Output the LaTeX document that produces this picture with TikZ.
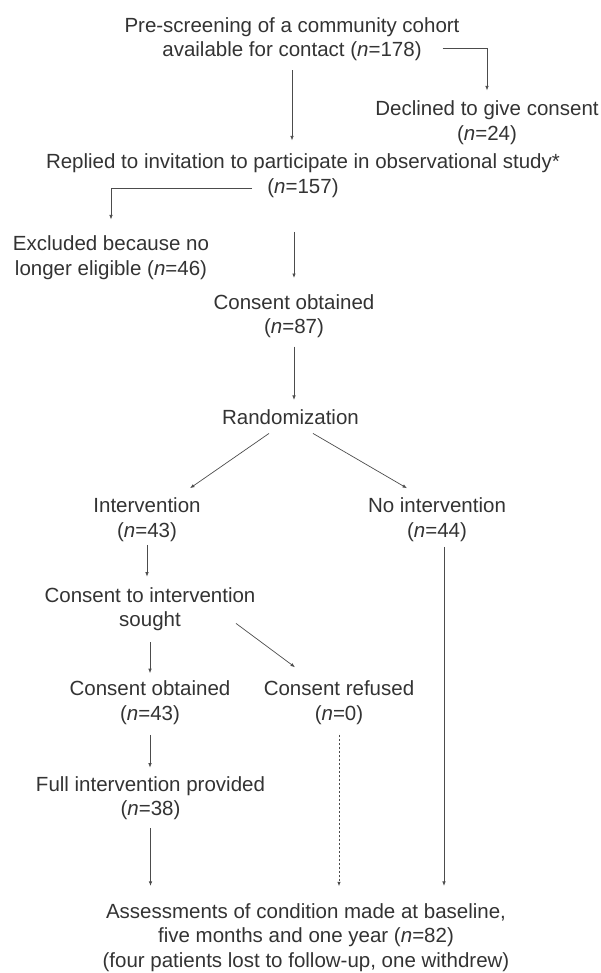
\documentclass[tikz,border=0pt]{standalone}
\usepackage{fontspec}
\setmainfont{Liberation Sans}
\usetikzlibrary{arrows.meta}
\newcommand{\ncount}[1]{(\textit{n}=#1)}
\begin{document}
\begin{tikzpicture}[x=1pt, y=-1pt,
    txt/.style={align=center, inner sep=0pt, text=black!80,
      font=\fontsize{20.5}{24.5}\selectfont},
    arr/.style={draw=black!70, line width=0.7pt,
      -{Latex[length=4.5pt,width=3.5pt]}}]
  \useasboundingbox (0,0) rectangle (601,973);
  \node[txt] (pre) at (292,39) {Pre-screening of a community cohort\\available for contact \ncount{178}};
  \node[txt] (declined) at (487,122.5) {Declined to give consent\\\ncount{24}};
  \node[txt] (replied) at (303,175.5) {Replied to invitation to participate in observational study*\\\ncount{157}};
  \node[txt] (excluded) at (111,257.5) {Excluded because no\\longer eligible \ncount{46}};
  \node[txt] (consent) at (294,316) {Consent obtained\\\ncount{87}};
  \node[txt] (random) at (290.5,417) {Randomization};
  \node[txt] (interv) at (147,519.5) {Intervention\\\ncount{43}};
  \node[txt] (nointerv) at (437,519.5) {No intervention\\\ncount{44}};
  \node[txt] (seek) at (150,609) {Consent to intervention\\sought};
  \node[txt] (obtained) at (150,702.5) {Consent obtained\\\ncount{43}};
  \node[txt] (refused) at (339,702.5) {Consent refused\\\ncount{0}};
  \node[txt] (full) at (150.5,798) {Full intervention provided\\\ncount{38}};
  \node[txt] (assess) at (306,937.5) {Assessments of condition made at baseline,\\five months and one year \ncount{82}\\(four patients lost to follow-up, one withdrew)};
  \draw[arr, shorten <=9.5pt, shorten >=13pt] (pre.south) -- (pre.south |- replied.north);
  \draw[arr, shorten >=10pt] ([xshift=-17pt,yshift=12.6pt]pre.south east) -| (declined.north);
  \draw[arr, shorten >=16pt] ([xshift=-51pt,yshift=9.6pt]replied.south) -| (excluded.north);
  \draw[arr, shorten <=34.4pt, shorten >=16pt] (consent.north |- replied.south) -- (consent.north);
  \draw[arr, shorten <=8.5pt, shorten >=9.3pt] (consent.south) -- (consent.south |- random.north);
  \draw[arr] ([xshift=-21.5pt,yshift=-8.7pt]random.south) -- ([xshift=43pt,yshift=9.3pt]interv.north);
  \draw[arr] ([xshift=22.5pt,yshift=-8.7pt]random.south) -- ([xshift=-30pt,yshift=9.3pt]nointerv.north);
  \draw[arr, shorten <=3.4pt, shorten >=10.3pt] (interv.south) -- (interv.south |- seek.north);
  \draw[arr, shorten <=5.4pt, shorten >=17.3pt] ([xshift=7pt]nointerv.south) -- ([xshift=7pt]nointerv.south |- assess.north);
  \draw[arr] ([xshift=86pt,yshift=7.6pt]seek.south) -- ([xshift=-44pt,yshift=13.3pt]refused.north);
  \draw[arr, shorten <=11.4pt, shorten >=7.3pt] (seek.south) -- (seek.south |- obtained.north);
  \draw[arr, shorten <=10.4pt, shorten >=8.3pt] (obtained.south) -- (obtained.south |- full.north);
  \draw[arr, shorten <=8.4pt, shorten >=17.3pt] (full.south) -- (full.south |- assess.north);
  \draw[arr, dash pattern=on 2pt off 2pt, shorten <=10.4pt, shorten >=17pt] (refused.south) -- (refused.south |- assess.north);
\end{tikzpicture}
\end{document}
